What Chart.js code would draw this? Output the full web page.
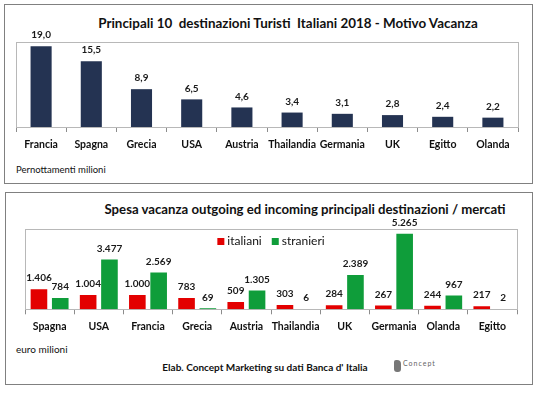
<!DOCTYPE html>
<html>
<head>
<meta charset="utf-8">
<script src="https://cdn.jsdelivr.net/npm/chart.js@4.4.1/dist/chart.umd.min.js"></script>
<style>
  body { margin: 0; width: 539px; height: 395px; background: #fff; position: relative; overflow: hidden; font-family: 'Lato', 'Liberation Sans', sans-serif; color: #111; }
  .pannello { position: absolute; border: 1px solid #808080; box-sizing: border-box; }
  .testo { position: absolute; white-space: nowrap; }
  canvas { position: absolute; left: 0; }
</style>
</head>
<body>
<div class="pannello" style="left:4px;top:4px;width:529px;height:180px"></div>
<div class="pannello" style="left:5px;top:192px;width:528px;height:193px"></div>

<div class="testo" style="left:288px;top:23px;transform:translate(-50%,-50%);font-weight:bold;font-size:13.4px">Principali 10&nbsp; destinazioni Turisti&nbsp; Italiani 2018 - Motivo Vacanza</div>
<div class="testo" style="left:16px;top:169px;transform:translateY(-50%);font-size:9.5px">Pernottamenti milioni</div>

<div class="testo" style="left:305px;top:209px;transform:translate(-50%,-50%);font-weight:bold;font-size:13.2px">Spesa vacanza outgoing ed incoming principali destinazioni / mercati</div>
<div class="testo" style="left:16px;top:349px;transform:translateY(-50%);font-size:10px">euro milioni</div>
<div class="testo" style="left:265px;top:367px;transform:translate(-50%,-50%);font-weight:bold;font-size:10px">Elab. Concept Marketing su dati Banca d' Italia</div>
<div style="position:absolute;left:394px;top:360px;width:7px;height:12px;background:#777;border-radius:2px 4px 3px 3px"></div>
<div class="testo" style="left:403px;top:363px;transform:translateY(-50%);font-size:7px;color:#666;letter-spacing:1px">Concept</div>

<canvas id="grafico1" width="539" height="190" style="top:0;width:539px;height:190px"></canvas>
<canvas id="grafico2" width="539" height="205" style="top:190px;width:539px;height:205px"></canvas>

<script>
const categorieTop = ['Francia', 'Spagna', 'Grecia', 'USA', 'Austria', 'Thailandia', 'Germania', 'UK', 'Egitto', 'Olanda']
const pernottamenti = [19.0, 15.5, 8.9, 6.5, 4.6, 3.4, 3.1, 2.8, 2.4, 2.2]

const categorieSpesa = ['Spagna', 'USA', 'Francia', 'Grecia', 'Austria', 'Thailandia', 'UK', 'Germania', 'Olanda', 'Egitto']
const italiani = [1406, 1004, 1000, 783, 509, 303, 284, 267, 244, 217]
const stranieri = [784, 3477, 2569, 69, 1305, 6, 2389, 5265, 967, 2]

const FONT = "'Lato', 'Liberation Sans', sans-serif"

function formatoDecimale(v) {
    return v.toFixed(1).replace('.', ',')
}

function formatoMigliaia(v) {
    return String(v).replace(/\B(?=(\d{3})+(?!\d))/g, '.')
}

// cornice grigia attorno all'area del grafico
const cornice = {
    id: 'cornice',
    beforeDatasetsDraw(chart) {
        const a = chart.chartArea
        const ctx = chart.ctx
        ctx.save()
        ctx.strokeStyle = '#b8b8b8'
        ctx.lineWidth = 1
        ctx.strokeRect(Math.round(a.left) + 0.5, Math.round(a.top) + 0.5, Math.round(a.right - a.left), Math.round(a.bottom - a.top))
        ctx.restore()
    }
}

// etichette dei valori sopra le barre
const etichette = {
    id: 'etichette',
    afterDatasetsDraw(chart, args, opts) {
        const ctx = chart.ctx
        ctx.save()
        ctx.font = 'bold 10px ' + FONT
        ctx.fillStyle = '#1a1a1a'
        ctx.textAlign = 'center'
        ctx.textBaseline = 'middle'
        chart.data.datasets.forEach((ds, i) => {
            const meta = chart.getDatasetMeta(i)
            meta.data.forEach((bar, j) => {
                ctx.fillText(opts.formato(ds.data[j]), bar.x, bar.y - 11)
            })
        })
        ctx.restore()
    }
}

// legenda orizzontale dentro l'area del grafico
const legendaInterna = {
    id: 'legendaInterna',
    afterDatasetsDraw(chart, args, opts) {
        const ctx = chart.ctx
        const a = chart.chartArea
        ctx.save()
        ctx.font = '12px ' + FONT
        ctx.textBaseline = 'middle'
        const voci = chart.data.datasets.map(ds => ({ testo: ds.label, colore: ds.backgroundColor }))
        const larghezze = voci.map(v => 7 + 3 + ctx.measureText(v.testo).width)
        const totale = larghezze.reduce((s, w) => s + w, 0) + opts.spazio * (voci.length - 1)
        let x = (a.left + a.right) / 2 - totale / 2
        const y = a.top + opts.dy
        voci.forEach((v, i) => {
            ctx.fillStyle = v.colore
            ctx.fillRect(x, y - 3.5, 7, 7)
            ctx.fillStyle = '#111'
            ctx.fillText(v.testo, x + 10, y)
            x += larghezze[i] + opts.spazio
        })
        ctx.restore()
    }
}

function assex(altezza) {
    return {
        offset: true,
        afterFit(scale) { scale.height = altezza },
        border: { color: '#8c8c8c' },
        grid: { drawOnChartArea: false, drawTicks: true, tickLength: 5, offset: true, color: '#8c8c8c' },
        ticks: {
            autoSkip: false, maxRotation: 0, minRotation: 0, padding: 6,
            color: '#111', font: { family: FONT, size: 10.5, weight: 'bold' }
        }
    }
}

new Chart(document.getElementById('grafico1'), {
    type: 'bar',
    data: {
        labels: categorieTop,
        datasets: [{
            data: pernottamenti,
            backgroundColor: '#243352',
            categoryPercentage: 1,
            barPercentage: 0.42
        }]
    },
    options: {
        responsive: false,
        animation: false,
        layout: { padding: { top: 42, left: 16, right: 21, bottom: 0 } },
        plugins: {
            legend: { display: false },
            tooltip: { enabled: false },
            etichette: { formato: formatoDecimale }
        },
        scales: {
            x: assex(63),
            y: { display: false, min: 0, max: 20 }
        }
    },
    plugins: [cornice, etichette]
})

new Chart(document.getElementById('grafico2'), {
    type: 'bar',
    data: {
        labels: categorieSpesa,
        datasets: [
            { label: 'italiani', data: italiani, backgroundColor: '#e30000', categoryPercentage: 0.866, barPercentage: 0.78 },
            { label: 'stranieri', data: stranieri, backgroundColor: '#0f9d3a', categoryPercentage: 0.866, barPercentage: 0.78 }
        ]
    },
    options: {
        responsive: false,
        animation: false,
        layout: { padding: { top: 39, left: 25, right: 22, bottom: 0 } },
        plugins: {
            legend: { display: false },
            tooltip: { enabled: false },
            etichette: { formato: formatoMigliaia },
            legendaInterna: { dy: 12.5, spazio: 10 }
        },
        scales: {
            x: assex(85.7),
            y: { display: false, min: 0, max: 5600 }
        }
    },
    plugins: [cornice, etichette, legendaInterna]
})
</script>
</body>
</html>
